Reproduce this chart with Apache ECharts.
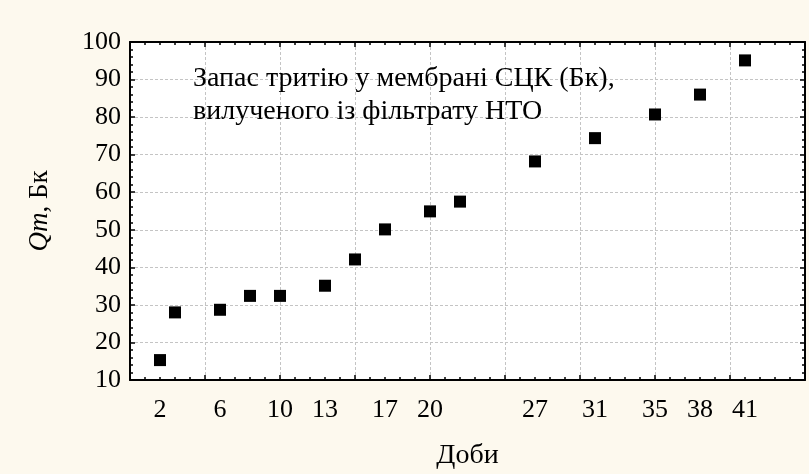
<!DOCTYPE html>
<html>
<head>
<meta charset="utf-8">
<script src="https://cdn.jsdelivr.net/npm/echarts@6/dist/echarts.min.js"></script>
<style>
  html, body { margin: 0; padding: 0; background: #fdf9ee; }
  #chart { width: 809px; height: 474px; }
</style>
</head>
<body>
<div id="chart"></div>
<script>
// Доби та запас тритію (Бк)
const days = [2, 3, 6, 8, 10, 13, 15, 17, 20, 22, 27, 31, 35, 38, 41];
const qm = [15.3, 28.0, 28.7, 32.4, 32.4, 35.1, 42.1, 50.1, 54.9, 57.5, 68.2, 74.4, 80.7, 86.0, 95.1];
const dayLabels = [2, 6, 10, 13, 17, 20, 27, 31, 35, 38, 41];
const noteLines = ['Запас тритію у мембрані СЦК (Бк),', 'вилученого із фільтрату НТО'];

const font = 'Liberation Serif';
const myChart = echarts.init(document.getElementById('chart'));

const boxAxis = {
  axisLine: { show: true, onZero: false, lineStyle: { color: '#000', width: 2 } },
  axisTick: { show: true, inside: true, length: 5, lineStyle: { color: '#000', width: 1.5 } },
  minorTick: { show: true, splitNumber: 5, length: 3, lineStyle: { color: '#000', width: 1.5 } },
};

const option = {
  backgroundColor: '#fdf9ee',
  animation: false,
  title: {
    text: noteLines.join('\n'),
    left: 188,
    top: 57,
    textStyle: { fontFamily: font, fontSize: 28, fontWeight: 'normal', color: '#000', lineHeight: 33 },
  },
  grid: {
    left: 130, right: 4, top: 42, bottom: 94,
    outerBoundsMode: 'none', containLabel: false,
    backgroundColor: '#fff', show: true, borderWidth: 0,
  },
  xAxis: [
    {
      type: 'value', position: 'bottom', min: 0, max: 45, interval: 5,
      ...boxAxis,
      axisLabel: { show: false },
      splitLine: { show: true, lineStyle: { color: '#c4c4c4', type: [3, 2] } },
      name: 'Доби', nameLocation: 'middle', nameGap: 62,
      nameTextStyle: { fontFamily: font, fontSize: 28, color: '#000' },
    },
    {
      type: 'value', position: 'bottom', min: 0, max: 45, interval: 1,
      axisLine: { show: false }, axisTick: { show: false }, splitLine: { show: false },
      axisLabel: {
        show: true, margin: 17, fontFamily: font, fontSize: 26, color: '#000',
        showMinLabel: true, showMaxLabel: true, hideOverlap: false,
        formatter: v => (dayLabels.indexOf(v) >= 0 ? String(v) : ''),
      },
    },
    {
      type: 'value', position: 'top', min: 0, max: 45, interval: 5,
      ...boxAxis,
      axisLabel: { show: false }, splitLine: { show: false },
    },
  ],
  yAxis: [
    {
      type: 'value', position: 'left', min: 10, max: 100, interval: 10,
      ...boxAxis,
      axisLabel: { margin: 9, fontFamily: font, fontSize: 26, color: '#000' },
      splitLine: { show: true, lineStyle: { color: '#c4c4c4', type: [3, 2] } },
      name: '{i|Qm}, Бк', nameLocation: 'middle', nameGap: 77,
      nameTextStyle: {
        fontFamily: font, fontSize: 27, color: '#000',
        rich: { i: { fontFamily: font, fontSize: 27, fontStyle: 'italic', color: '#000' } },
      },
    },
    {
      type: 'value', position: 'right', min: 10, max: 100, interval: 10,
      ...boxAxis,
      axisLabel: { show: false }, splitLine: { show: false },
    },
  ],
  series: [
    {
      type: 'scatter',
      xAxisIndex: 0,
      yAxisIndex: 0,
      symbol: 'rect',
      symbolSize: 12,
      itemStyle: { color: '#000', opacity: 1 },
      data: days.map((d, i) => [d, qm[i]]),
    },
  ],
};

myChart.setOption(option);
</script>
</body>
</html>
